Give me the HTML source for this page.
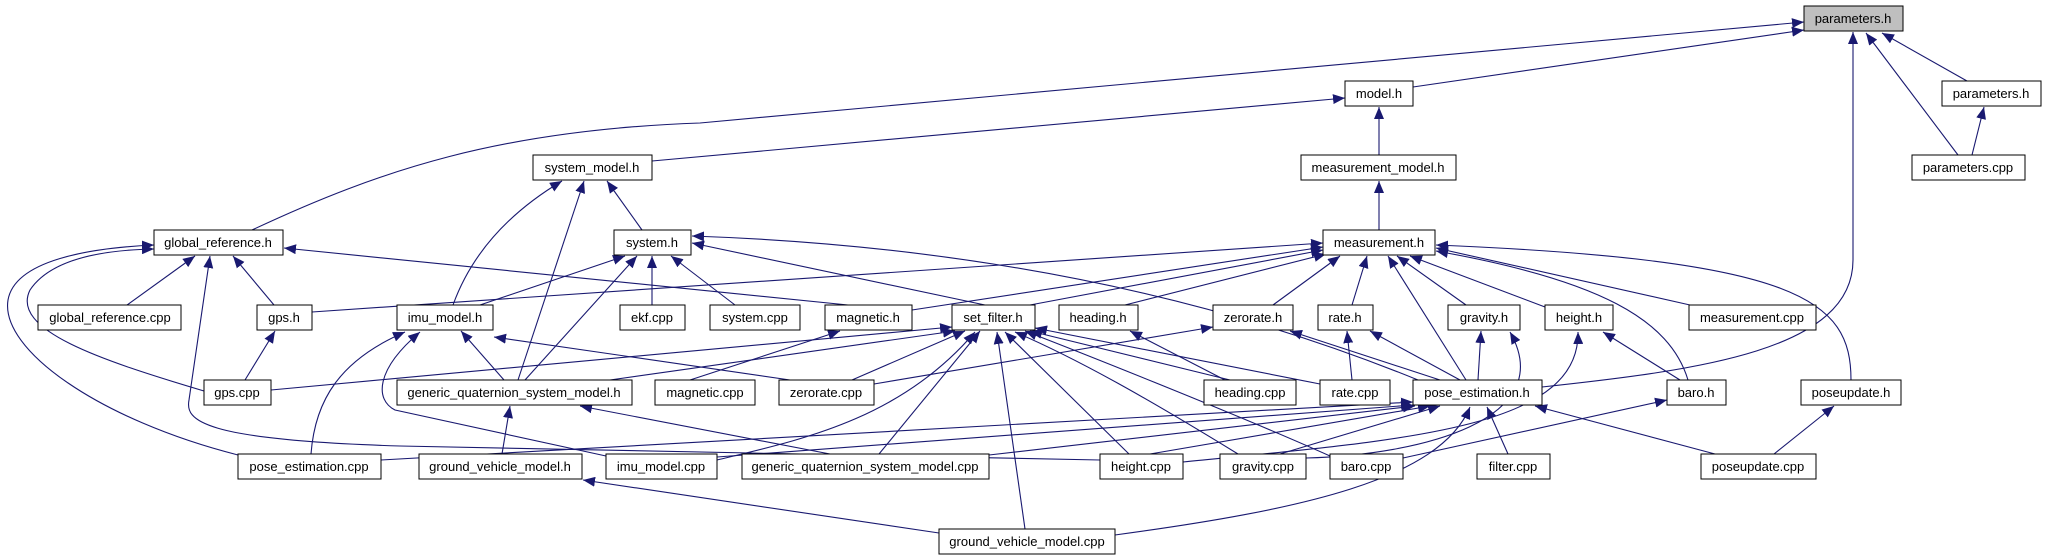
<!DOCTYPE html>
<html><head><meta charset="utf-8"><style>
html,body{margin:0;padding:0;background:#fff;}
svg{display:block;}
text{font-family:"Liberation Sans",sans-serif;font-size:13px;text-anchor:middle;fill:#000;}
.e{fill:none;stroke:#191970;stroke-width:1.1;marker-end:url(#a);}
rect{fill:#fff;stroke:#000;stroke-width:1;}
</style></head><body>
<svg width="2046" height="560" viewBox="0 0 2046 560" xmlns="http://www.w3.org/2000/svg">
<defs><marker id="a" markerUnits="userSpaceOnUse" markerWidth="12" markerHeight="10" refX="12" refY="5" orient="auto"><path d="M0,0 L12,5 L0,10 z" fill="#191970"/></marker></defs>
<g>
<path class="e" d="M252,230 C380,170 500,130 700,123 L1804,22"/>
<path class="e" d="M1413,87 L1804,30"/>
<path class="e" d="M1967,81 L1882,33"/>
<path class="e" d="M1958,155 L1866,33"/>
<path class="e" d="M1972,155 L1984,107"/>
<path class="e" d="M1542,387 C1700,370 1853,350 1853,260 L1853,32"/>
<path class="e" d="M652,161 L1345,98"/>
<path class="e" d="M1379,155 L1379,107"/>
<path class="e" d="M1379,230 L1379,181"/>
<path class="e" d="M453,305 Q480,230 562,181"/>
<path class="e" d="M518,380 L584,181"/>
<path class="e" d="M642,230 L607,181"/>
<path class="e" d="M127,305 L195,256"/>
<path class="e" d="M274,305 L233,256"/>
<path class="e" d="M204,391 C100,360 10,330 30,290 C50,260 100,250 154,249"/>
<path class="e" d="M238,455 C100,420 0,350 8,300 C15,260 90,248 154,245"/>
<path class="e" d="M1100,460 L400,446 C200,440 185,420 189,400 L210,256"/>
<path class="e" d="M848,305 L284,248"/>
<path class="e" d="M480,305 L625,256"/>
<path class="e" d="M525,380 L637,256"/>
<path class="e" d="M652,305 L652,256"/>
<path class="e" d="M735,305 L671,256"/>
<path class="e" d="M985,305 L692,243"/>
<path class="e" d="M1418,380 Q1100,250 692,236"/>
<path class="e" d="M312,312 L1323,243"/>
<path class="e" d="M912,310 L1323,247"/>
<path class="e" d="M1030,305 L1323,250"/>
<path class="e" d="M1125,305 L1326,254"/>
<path class="e" d="M1273,305 L1340,256"/>
<path class="e" d="M1352,305 L1367,256"/>
<path class="e" d="M1466,380 L1388,256"/>
<path class="e" d="M1466,305 L1397,256"/>
<path class="e" d="M1545,307 L1410,256"/>
<path class="e" d="M1690,305 L1436,248"/>
<path class="e" d="M1688,380 C1670,320 1600,280 1436,251"/>
<path class="e" d="M1851,380 C1851,300 1800,260 1436,245"/>
<path class="e" d="M245,380 L275,331"/>
<path class="e" d="M504,380 L461,331"/>
<path class="e" d="M790,380 L494,337"/>
<path class="e" d="M311,454 C315,400 340,360 405,332"/>
<path class="e" d="M606,456 L395,410 C375,400 375,370 420,332"/>
<path class="e" d="M690,380 L840,331"/>
<path class="e" d="M271,390 L952,327"/>
<path class="e" d="M610,380 L955,331"/>
<path class="e" d="M852,380 L965,331"/>
<path class="e" d="M717,460 C800,440 900,420 975,332"/>
<path class="e" d="M879,454 L980,331"/>
<path class="e" d="M1025,529 L997,332"/>
<path class="e" d="M1129,454 L1005,332"/>
<path class="e" d="M1238,454 C1150,400 1080,360 1015,332"/>
<path class="e" d="M1330,456 C1250,420 1100,360 1025,331"/>
<path class="e" d="M1230,380 L1030,331"/>
<path class="e" d="M1320,384 L1035,328"/>
<path class="e" d="M1225,380 L1130,331"/>
<path class="e" d="M874,384 L1213,327"/>
<path class="e" d="M1440,380 L1290,331"/>
<path class="e" d="M1352,380 L1347,331"/>
<path class="e" d="M1460,380 L1370,331"/>
<path class="e" d="M1478,380 L1481,331"/>
<path class="e" d="M1306,458 C1420,455 1560,420 1510,332"/>
<path class="e" d="M1183,462 C1400,440 1580,430 1578,332"/>
<path class="e" d="M1680,380 L1603,332"/>
<path class="e" d="M381,460 L1413,402"/>
<path class="e" d="M717,457 L1413,405"/>
<path class="e" d="M989,455 L1415,406"/>
<path class="e" d="M1150,454 L1430,406"/>
<path class="e" d="M1280,454 L1440,406"/>
<path class="e" d="M1115,535 C1300,510 1440,480 1470,407"/>
<path class="e" d="M1508,454 L1487,407"/>
<path class="e" d="M1715,454 L1535,406"/>
<path class="e" d="M1403,458 L1667,400"/>
<path class="e" d="M502,454 L510,406"/>
<path class="e" d="M830,454 L580,406"/>
<path class="e" d="M939,533 L583,480"/>
<path class="e" d="M1774,454 L1834,406"/>
</g>
<g>
<rect x="1804" y="6" width="99" height="25" style="fill:#bfbfbf"/><text x="1853" y="23">parameters.h</text>
<rect x="1345" y="81" width="68" height="25"/><text x="1379" y="98">model.h</text>
<rect x="1942" y="81" width="99" height="25"/><text x="1991" y="98">parameters.h</text>
<rect x="533" y="155" width="119" height="25"/><text x="592" y="172">system_model.h</text>
<rect x="1301" y="155" width="155" height="25"/><text x="1378" y="172">measurement_model.h</text>
<rect x="1912" y="155" width="113" height="25"/><text x="1968" y="172">parameters.cpp</text>
<rect x="154" y="230" width="129" height="25"/><text x="218" y="247">global_reference.h</text>
<rect x="614" y="230" width="77" height="25"/><text x="652" y="247">system.h</text>
<rect x="1323" y="230" width="112" height="25"/><text x="1379" y="247">measurement.h</text>

<rect x="38" y="305" width="143" height="25"/><text x="110" y="322">global_reference.cpp</text>
<rect x="257" y="305" width="55" height="25"/><text x="284" y="322">gps.h</text>
<rect x="397" y="305" width="96" height="25"/><text x="445" y="322">imu_model.h</text>
<rect x="620" y="305" width="65" height="25"/><text x="652" y="322">ekf.cpp</text>
<rect x="710" y="305" width="90" height="25"/><text x="755" y="322">system.cpp</text>
<rect x="825" y="305" width="87" height="25"/><text x="868" y="322">magnetic.h</text>
<rect x="952" y="305" width="83" height="25"/><text x="993" y="322">set_filter.h</text>
<rect x="1059" y="305" width="79" height="25"/><text x="1098" y="322">heading.h</text>
<rect x="1213" y="305" width="80" height="25"/><text x="1253" y="322">zerorate.h</text>
<rect x="1318" y="305" width="55" height="25"/><text x="1345" y="322">rate.h</text>
<rect x="1448" y="305" width="72" height="25"/><text x="1484" y="322">gravity.h</text>
<rect x="1545" y="305" width="68" height="25"/><text x="1579" y="322">height.h</text>
<rect x="1689" y="305" width="127" height="25"/><text x="1752" y="322">measurement.cpp</text>

<rect x="204" y="380" width="67" height="25"/><text x="237" y="397">gps.cpp</text>
<rect x="397" y="380" width="235" height="25"/><text x="514" y="397">generic_quaternion_system_model.h</text>
<rect x="655" y="380" width="100" height="25"/><text x="705" y="397">magnetic.cpp</text>
<rect x="779" y="380" width="95" height="25"/><text x="826" y="397">zerorate.cpp</text>
<rect x="1204" y="380" width="92" height="25"/><text x="1250" y="397">heading.cpp</text>
<rect x="1320" y="380" width="70" height="25"/><text x="1355" y="397">rate.cpp</text>
<rect x="1413" y="380" width="129" height="25"/><text x="1477" y="397">pose_estimation.h</text>
<rect x="1667" y="380" width="59" height="25"/><text x="1696" y="397">baro.h</text>
<rect x="1801" y="380" width="100" height="25"/><text x="1851" y="397">poseupdate.h</text>

<rect x="238" y="454" width="143" height="25"/><text x="309" y="471">pose_estimation.cpp</text>
<rect x="419" y="454" width="163" height="25"/><text x="500" y="471">ground_vehicle_model.h</text>
<rect x="606" y="454" width="111" height="25"/><text x="661" y="471">imu_model.cpp</text>
<rect x="742" y="454" width="247" height="25"/><text x="865" y="471">generic_quaternion_system_model.cpp</text>
<rect x="1100" y="454" width="83" height="25"/><text x="1141" y="471">height.cpp</text>
<rect x="1220" y="454" width="86" height="25"/><text x="1263" y="471">gravity.cpp</text>
<rect x="1330" y="454" width="73" height="25"/><text x="1366" y="471">baro.cpp</text>
<rect x="1477" y="454" width="73" height="25"/><text x="1513" y="471">filter.cpp</text>
<rect x="1701" y="454" width="115" height="25"/><text x="1758" y="471">poseupdate.cpp</text>

<rect x="939" y="529" width="176" height="25"/><text x="1027" y="546">ground_vehicle_model.cpp</text>
</g>
</svg>
</body></html>
